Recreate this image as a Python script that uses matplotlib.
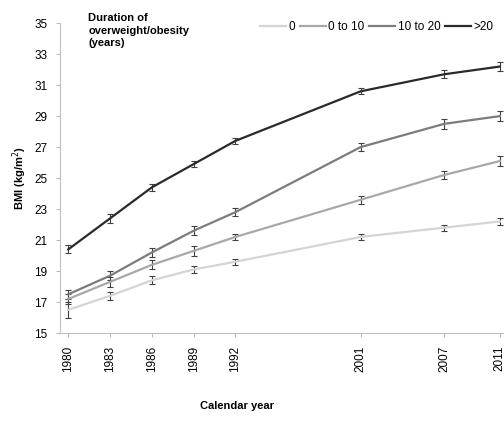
import numpy as np
import matplotlib.pyplot as plt

plt.rcParams['font.family'] = ['Liberation Sans', 'DejaVu Sans']

years = [1980, 1983, 1986, 1989, 1992, 2001, 2007, 2011]
labels = ['0', '0 to 10', '10 to 20', '>20']

bmi_0 = [16.5, 17.4, 18.4, 19.1, 19.6, 21.2, 21.8, 22.2]
bmi_0_10 = [17.2, 18.3, 19.4, 20.3, 21.2, 23.6, 25.2, 26.1]
bmi_10_20 = [17.5, 18.7, 20.2, 21.6, 22.8, 27.0, 28.5, 29.0]
bmi_20 = [20.4, 22.4, 24.4, 25.9, 27.4, 30.6, 31.7, 32.2]

err_0 = [0.5, 0.25, 0.25, 0.2, 0.2, 0.2, 0.2, 0.2]
err_0_10 = [0.3, 0.3, 0.3, 0.3, 0.2, 0.25, 0.25, 0.3]
err_10_20 = [0.3, 0.3, 0.3, 0.3, 0.25, 0.25, 0.3, 0.3]
err_20 = [0.25, 0.3, 0.25, 0.2, 0.2, 0.2, 0.25, 0.3]

series = [bmi_0, bmi_0_10, bmi_10_20, bmi_20]
errs = [err_0, err_0_10, err_10_20, err_20]
colors = ['#d4d4d4', '#a8a8a8', '#7c7c7c', '#2a2a2a']

fig = plt.figure(figsize=(5.04, 4.21), dpi=100)
ax = fig.add_axes([0.119, 0.209, 0.881, 0.736])

for y, e, c, lab in zip(series, errs, colors, labels):
    ax.errorbar(years, y, yerr=e, color=c, lw=1.6, label=lab,
                ecolor='#404040', elinewidth=0.8, capsize=2.5, capthick=0.8)

ax.set_xlim(1979.4, 2011.3)
ax.set_ylim(15, 35)
ax.set_yticks(np.arange(15, 36, 2))
ax.set_xticks(years)
ax.set_xticklabels([str(v) for v in years], rotation=90, fontsize=8.5)
ax.tick_params(axis='y', labelsize=8.5, length=3, color='#bbbbbb', pad=6)
ax.tick_params(axis='x', length=3, color='#bbbbbb', pad=6)
for s in ['top', 'right']:
    ax.spines[s].set_visible(False)
for s in ['left', 'bottom']:
    ax.spines[s].set_color('#c0c0c0')

ax.set_ylabel('BMI (kg/m$^2$)', fontsize=8, fontweight='bold', labelpad=4)
fig.text(0.47, 0.028, 'Calendar year', fontsize=8, fontweight='bold', ha='center')

fig.text(0.175, 0.968, 'Duration of\noverweight/obesity\n(years)', fontsize=8,
         fontweight='bold', va='top', linespacing=1.3)

handles, labs = ax.get_legend_handles_labels()
handles = [h[0] for h in handles]
leg = fig.legend(handles, labs, loc='center right', bbox_to_anchor=(1.0, 0.935),
                 ncol=4, frameon=False, fontsize=8.5, handlelength=2.2,
                 handletextpad=0.2, columnspacing=0.4)

plt.savefig('out.png', dpi=100)
